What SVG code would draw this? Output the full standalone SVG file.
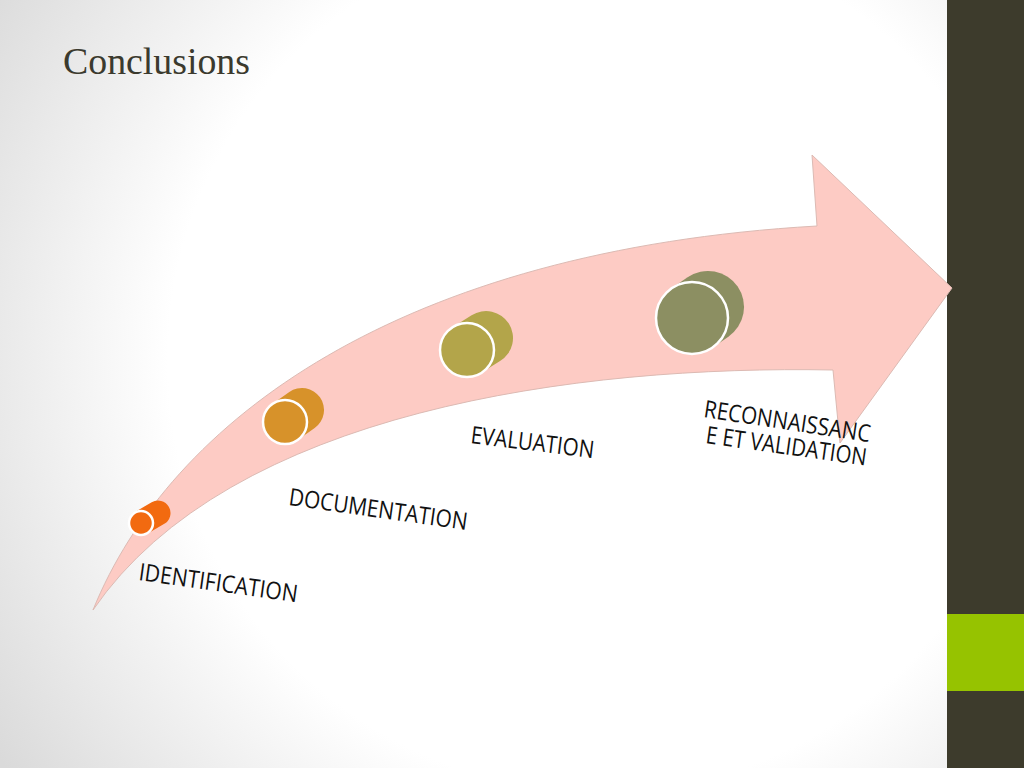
<svg xmlns="http://www.w3.org/2000/svg" width="1024" height="768" viewBox="0 0 1024 768">
<defs>
<radialGradient id="bg" cx="600" cy="360" r="720" gradientUnits="userSpaceOnUse">
<stop offset="0" stop-color="#ffffff"/>
<stop offset="0.6" stop-color="#ffffff"/>
<stop offset="1" stop-color="#dadada"/>
</radialGradient>
<style>
.lbl{font-family:"Open Sans","Liberation Sans",sans-serif;font-size:24px;fill:#111;}
.front{stroke:#ffffff;stroke-width:2.5;}
</style>
</defs>
<rect x="0" y="0" width="1024" height="768" fill="url(#bg)"/>
<rect x="947" y="0" width="77" height="768" fill="#3d3b2c"/>
<rect x="947" y="614" width="77" height="77" fill="#96c300"/>
<text x="63" y="74" font-family="'Liberation Serif',serif" font-size="37" fill="#3b3a2e" textLength="187" lengthAdjust="spacingAndGlyphs">Conclusions</text>
<g id="connectors">
<path id="arrow" d="M93,610 C170,420 400,250 817,226 L812,155 L952,288 L840,443 L833,370 C580,365 230,410 93,610 Z" fill="#fdcbc4" stroke="#dcbab3" stroke-width="1"/>
</g>
<g id="identification">
<line x1="141" y1="523" x2="158" y2="513" stroke="#f26a10" stroke-width="25" stroke-linecap="round"/>
<circle class="front" cx="141" cy="523" r="12" fill="#f26a10"/>
<text class="lbl" x="138" y="580" transform="rotate(8 138 580)" textLength="160" lengthAdjust="spacingAndGlyphs">IDENTIFICATION</text>
</g>
<g id="documentation">
<line x1="285" y1="422" x2="302" y2="410" stroke="#d7922a" stroke-width="44" stroke-linecap="round"/>
<circle class="front" cx="285" cy="422" r="22" fill="#d7922a"/>
<text class="lbl" x="288" y="505" transform="rotate(8 288 505)" textLength="180" lengthAdjust="spacingAndGlyphs">DOCUMENTATION</text>
</g>
<g id="evaluation">
<line x1="467" y1="350" x2="486" y2="338" stroke="#b3a54a" stroke-width="54" stroke-linecap="round"/>
<circle class="front" cx="467" cy="350" r="27" fill="#b3a54a"/>
<text class="lbl" x="470" y="443" transform="rotate(7 470 443)" textLength="124" lengthAdjust="spacingAndGlyphs">EVALUATION</text>
</g>
<g id="reconnaissance">
<line x1="692" y1="318" x2="708" y2="307" stroke="#8c8f62" stroke-width="72" stroke-linecap="round"/>
<circle class="front" cx="692" cy="318" r="36" fill="#8c8f62"/>
<text class="lbl" x="703" y="417" transform="rotate(8.6 703 417)" textLength="168" lengthAdjust="spacingAndGlyphs">RECONNAISSANC</text>
<text class="lbl" x="705" y="443" transform="rotate(8 705 443)" textLength="162" lengthAdjust="spacingAndGlyphs">E ET VALIDATION</text>
</g>
</svg>
